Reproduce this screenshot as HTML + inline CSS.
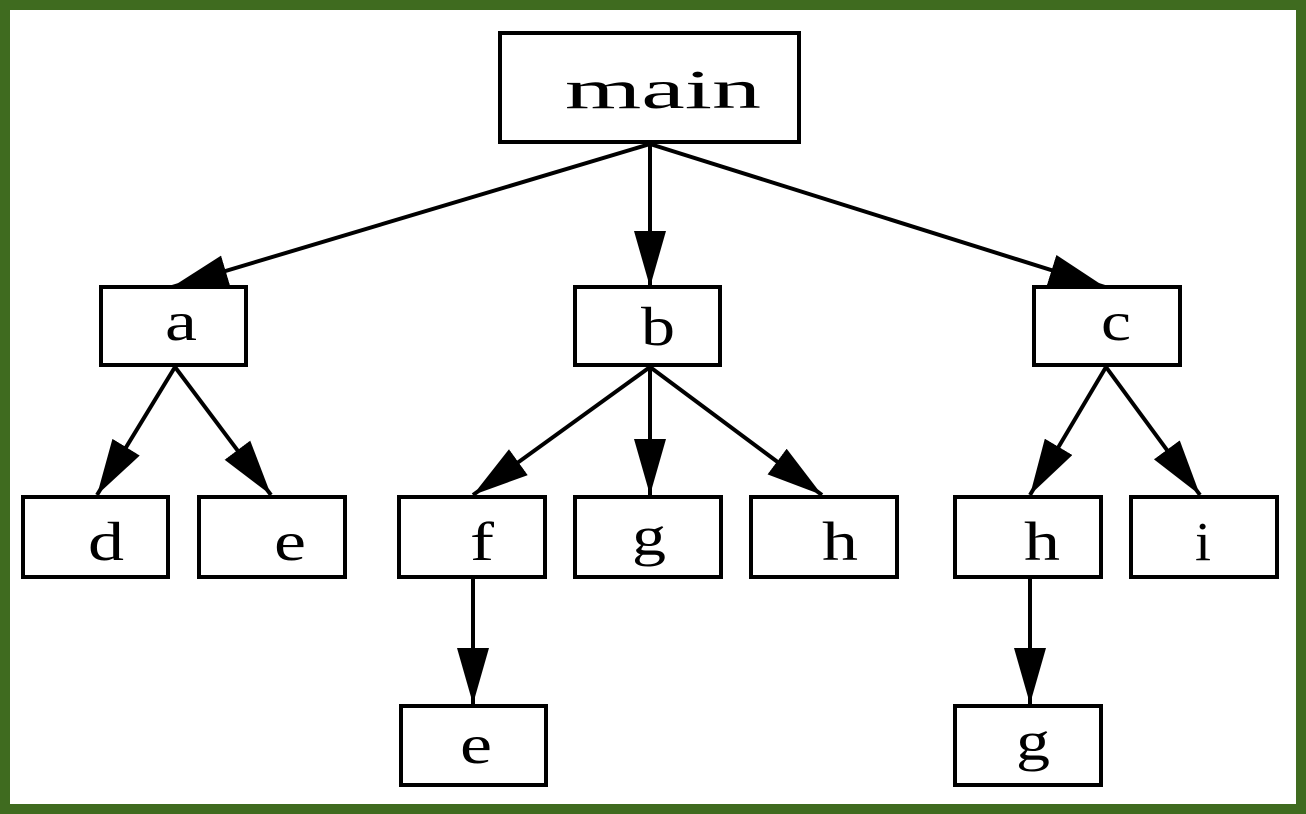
<!DOCTYPE html>
<html><head><style>
html,body{margin:0;padding:0;background:#fff}
svg{display:block}
text{font-family:"Liberation Serif",serif;font-size:55px;fill:#000;text-anchor:middle}
rect{fill:#fff;stroke:#000;stroke-width:4}
line{stroke:#000;stroke-width:4}
</style></head><body>
<svg width="1306" height="814" viewBox="0 0 1306 814" xmlns="http://www.w3.org/2000/svg">
<defs>
<marker id="ah" markerUnits="userSpaceOnUse" markerWidth="56" markerHeight="32" refX="56" refY="16" orient="auto">
<path d="M0,0 L56,16 L0,32 Z" fill="#000"/>
</marker>
</defs>
<rect x="5" y="5" width="1296" height="804" style="fill:#fff;stroke:#3f6b1f;stroke-width:10"/>
<g>
<line x1="650" y1="144" x2="172" y2="287" marker-end="url(#ah)"/>
<line x1="650" y1="144" x2="650" y2="287" marker-end="url(#ah)"/>
<line x1="650" y1="144" x2="1105" y2="287" marker-end="url(#ah)"/>
<line x1="175" y1="367" x2="97" y2="495" marker-end="url(#ah)"/>
<line x1="175" y1="367" x2="271" y2="495" marker-end="url(#ah)"/>
<line x1="650" y1="367" x2="473" y2="495" marker-end="url(#ah)"/>
<line x1="650" y1="367" x2="650" y2="495" marker-end="url(#ah)"/>
<line x1="650" y1="367" x2="822" y2="495" marker-end="url(#ah)"/>
<line x1="1106" y1="367" x2="1030" y2="495" marker-end="url(#ah)"/>
<line x1="1106" y1="367" x2="1200" y2="495" marker-end="url(#ah)"/>
<line x1="473" y1="579" x2="473" y2="704" marker-end="url(#ah)"/>
<line x1="1030" y1="579" x2="1030" y2="704" marker-end="url(#ah)"/>
</g>
<rect x="500" y="33" width="299" height="109"/><text x="663" y="108" textLength="196" lengthAdjust="spacingAndGlyphs">main</text>
<rect x="101" y="287" width="145" height="78"/><text x="181" y="340" textLength="32" lengthAdjust="spacingAndGlyphs">a</text>
<rect x="575" y="287" width="145" height="78"/><text x="658" y="345" textLength="34" lengthAdjust="spacingAndGlyphs">b</text>
<rect x="1034" y="287" width="146" height="78"/><text x="1116" y="340" textLength="30" lengthAdjust="spacingAndGlyphs">c</text>
<rect x="23" y="497" width="145" height="80"/><text x="106" y="560" textLength="36" lengthAdjust="spacingAndGlyphs">d</text>
<rect x="199" y="497" width="146" height="80"/><text x="290" y="560" textLength="32" lengthAdjust="spacingAndGlyphs">e</text>
<rect x="399" y="497" width="146" height="80"/><text x="482" y="560" textLength="24" lengthAdjust="spacingAndGlyphs">f</text>
<rect x="575" y="497" width="146" height="80"/><text x="649" y="555" textLength="34" lengthAdjust="spacingAndGlyphs">g</text>
<rect x="751" y="497" width="146" height="80"/><text x="840" y="560" textLength="36" lengthAdjust="spacingAndGlyphs">h</text>
<rect x="955" y="497" width="146" height="80"/><text x="1042" y="560" textLength="36" lengthAdjust="spacingAndGlyphs">h</text>
<rect x="1131" y="497" width="146" height="80"/><text x="1203" y="560" textLength="16" lengthAdjust="spacingAndGlyphs">i</text>
<rect x="401" y="706" width="145" height="79"/><text x="476" y="763" textLength="32" lengthAdjust="spacingAndGlyphs">e</text>
<rect x="955" y="706" width="146" height="79"/><text x="1033" y="760" textLength="34" lengthAdjust="spacingAndGlyphs">g</text>
</svg>
</body></html>
